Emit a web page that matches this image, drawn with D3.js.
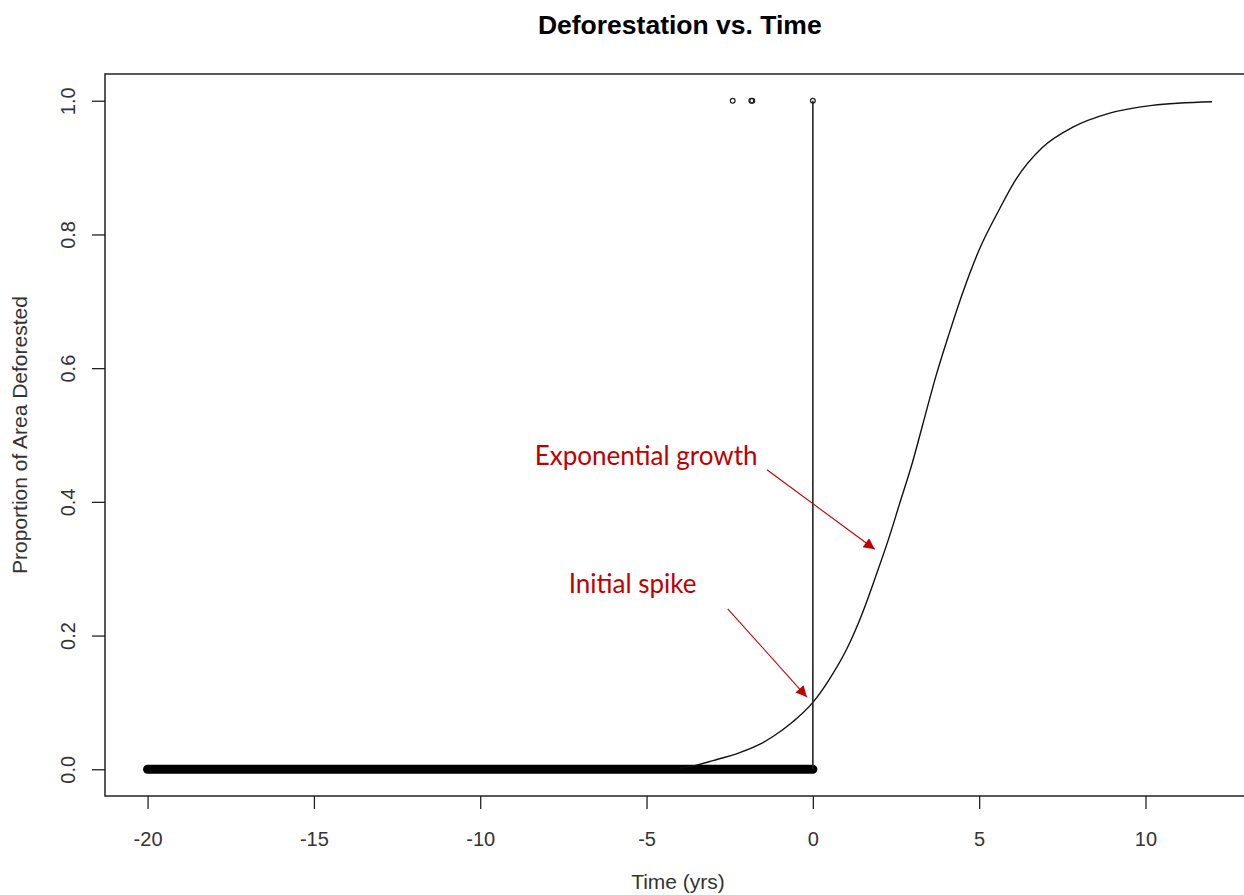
<!DOCTYPE html>
<html>
<head>
<meta charset="utf-8">
<script src="https://cdn.jsdelivr.net/npm/d3@7.9.0/dist/d3.min.js"></script>
<style>
  html, body { margin: 0; padding: 0; background: #fff; }
  svg { display: block; }
  .tick-label { font-family: "Liberation Sans", Arial, sans-serif; font-size: 20px; fill: #333; }
  .axis-title { font-family: "Liberation Sans", Arial, sans-serif; font-size: 21px; fill: #333; }
  .note { font-family: Lato, "Open Sans", sans-serif; font-size: 26px; fill: #c00000; }
</style>
</head>
<body>
<svg id="chart" width="1244" height="895"></svg>
<script>
// tick values
const xTicks = [-20, -15, -10, -5, 0, 5, 10];
const yTicks = [0, 0.2, 0.4, 0.6, 0.8, 1.0];

// flat run of points at zero before the spike
const baseX = [-20, 0];
const baseY = [0, 0];

// the spike at t = 0
const spikeX = [0, 0];
const spikeY = [0, 1];

// stray points at the top
const topX = [-2.41, -1.85, -1.82, 0];
const topY = [1, 1, 1, 1];

// growth curve
const curveX = [-4, -3.6, -3, -2.2, -1.5, -1.2, -0.6, 0, 0.5, 1, 1.5, 1.9, 2.3, 2.6, 3, 3.3, 3.7, 4.1, 4.5, 5, 5.6, 6.1, 6.9, 7.8, 8.9, 10.2, 12];
const curveY = [0.002, 0.005, 0.013, 0.025, 0.04, 0.049, 0.071, 0.1, 0.135, 0.178, 0.235, 0.29, 0.348, 0.396, 0.46, 0.515, 0.588, 0.652, 0.712, 0.777, 0.837, 0.882, 0.93, 0.96, 0.981, 0.993, 0.9985];

// annotations: label, text anchor point, arrow start, arrow tip (data units)
const notes = [
  { label: "Exponential growth", tx: -8.36, ty: 0.455, x1: -1.38, y1: 0.448, x2: 1.86, y2: 0.329 },
  { label: "Initial spike", tx: -7.34, ty: 0.264, x1: -2.56, y1: 0.24, x2: -0.18, y2: 0.108 }
];

const svg = d3.select("#chart");

const x = d3.scaleLinear().domain([-21.28, 13.28]).range([105, 1254.6]);
const y = d3.scaleLinear().domain([-0.04, 1.04]).range([796, 74]);

// title
svg.append("text")
   .attr("x", (x.range()[0] + x.range()[1]) / 2)
   .attr("y", 34)
   .attr("text-anchor", "middle")
   .style("font-family", "'Liberation Sans', Arial, sans-serif")
   .style("font-weight", "bold")
   .style("font-size", "26.5px")
   .text("Deforestation vs. Time");

// plot box
svg.append("rect")
   .attr("x", x.range()[0])
   .attr("y", y.range()[1])
   .attr("width", x.range()[1] - x.range()[0])
   .attr("height", y.range()[0] - y.range()[1])
   .attr("fill", "none")
   .attr("stroke", "#222")
   .attr("stroke-width", 1.5);

// x axis
let xAxis = svg.append("g")
   .attr("transform", `translate(0,${y.range()[0]})`)
   .call(d3.axisBottom(x).tickValues(xTicks).tickSize(13).tickSizeOuter(0).tickFormat(d => String(d)));
xAxis.select(".domain").remove();
xAxis.selectAll("line").attr("stroke", "#222").attr("stroke-width", 1.3);
xAxis.selectAll("text")
     .attr("class", "tick-label")
     .attr("y", 50)
     .attr("dy", null);
xAxis.attr("font-size", null).attr("font-family", null);

// y axis
let yAxis = svg.append("g")
   .attr("transform", `translate(${x.range()[0]},0)`)
   .call(d3.axisLeft(y).tickValues(yTicks).tickSize(13).tickSizeOuter(0));
yAxis.select(".domain").remove();
yAxis.attr("font-size", null).attr("font-family", null);
yAxis.selectAll("line").attr("stroke", "#222").attr("stroke-width", 1.3);
yAxis.selectAll("text").remove();
yAxis.selectAll(".tick")
     .append("text")
     .attr("class", "tick-label")
     .attr("transform", "translate(-30,0) rotate(-90)")
     .attr("text-anchor", "middle")
     .text(d => d3.format(".1f")(d));

// axis titles
svg.append("text")
   .attr("class", "axis-title")
   .attr("x", 678)
   .attr("y", 889)
   .attr("text-anchor", "middle")
   .text("Time (yrs)");

svg.append("text")
   .attr("class", "axis-title")
   .attr("transform", `translate(27,${(y.range()[0] + y.range()[1]) / 2}) rotate(-90)`)
   .attr("text-anchor", "middle")
   .text("Proportion of Area Deforested");

const line = d3.line().x(d => x(d[0])).y(d => y(d[1]));

// thick band of overlapping points at zero
svg.append("path")
   .attr("d", line(d3.zip(baseX, baseY)))
   .attr("stroke", "#000")
   .attr("stroke-width", 9)
   .attr("stroke-linecap", "round")
   .attr("fill", "none");

// growth curve
svg.append("path")
   .attr("d", line.curve(d3.curveMonotoneX)(d3.zip(curveX, curveY)))
   .attr("stroke", "#111")
   .attr("stroke-width", 1.4)
   .attr("fill", "none");
line.curve(d3.curveLinear);

// spike
svg.append("path")
   .attr("d", line(d3.zip(spikeX, spikeY)))
   .attr("stroke", "#222")
   .attr("stroke-width", 1.6)
   .attr("fill", "none");

// top points
svg.selectAll("circle.top")
   .data(d3.zip(topX, topY))
   .join("circle")
   .attr("class", "top")
   .attr("cx", d => x(d[0]))
   .attr("cy", d => y(d[1]))
   .attr("r", 2.4)
   .attr("fill", "none")
   .attr("stroke", "#222")
   .attr("stroke-width", 1.2);

// arrow head
svg.append("defs").append("marker")
   .attr("id", "head")
   .attr("viewBox", "0 0 10 10")
   .attr("refX", 10)
   .attr("refY", 5)
   .attr("markerUnits", "userSpaceOnUse")
   .attr("markerWidth", 14)
   .attr("markerHeight", 11)
   .attr("orient", "auto")
   .append("path")
   .attr("d", "M0,0L10,5L0,10Z")
   .attr("fill", "#c00000");

notes.forEach(n => {
  svg.append("line")
     .attr("x1", x(n.x1)).attr("y1", y(n.y1))
     .attr("x2", x(n.x2)).attr("y2", y(n.y2))
     .attr("stroke", "#c00000")
     .attr("stroke-width", 1.1)
     .attr("marker-end", "url(#head)");
  svg.append("text")
     .attr("class", "note")
     .attr("x", x(n.tx))
     .attr("y", y(n.ty))
     .text(n.label);
});
</script>
</body>
</html>
